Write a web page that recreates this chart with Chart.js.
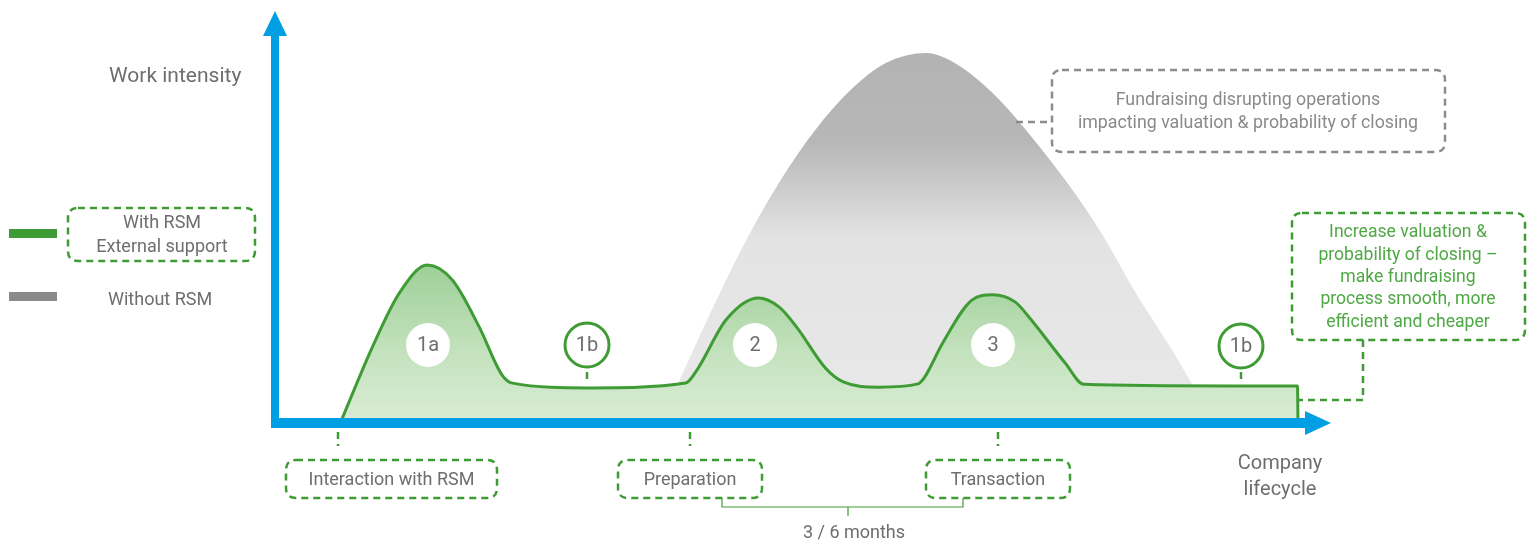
<!DOCTYPE html>
<html>
<head>
<meta charset="utf-8">
<title>Work intensity over the company lifecycle</title>
<script src="https://cdn.jsdelivr.net/npm/chart.js"></script>
<style>
  html, body { margin: 0; padding: 0; background: #fff; }
  #chart { display: block; }
</style>
</head>
<body>
<canvas id="chart" width="1528" height="544"></canvas>
<script>
    "use strict";

    // Curves (x = lifecycle 0..100, y = work intensity 0..100)
    var withRsmX = [6.3, 9.4, 12.0, 14.7, 17.1, 19.7, 21.9, 22.9, 30.3, 39.6, 40.7, 43.5, 46.6, 48.6, 50.3, 53.1, 54.8, 58.2, 62.0, 62.6, 64.4, 67.2, 69.2, 71.4, 72.7, 76.2, 78.0, 92.3, 98.6, 98.65];
    var withRsmY = [0, 18.9, 32.3, 39.2, 35.5, 23.8, 11.9, 9.9, 8.7, 9.9, 13.2, 25.6, 31.0, 28.8, 23.8, 13.6, 10.2, 8.9, 9.7, 11.2, 19.9, 30.5, 31.8, 30.0, 26.3, 14.9, 9.6, 9.2, 9.2, 0];
    var withoutRsmX = [38.8, 41.8, 45.1, 48.6, 52.1, 55.5, 58.9, 62.8, 65.9, 69.2, 71.6, 76.2, 79.7, 83.0, 86.5, 88.5];
    var withoutRsmY = [9.4, 26.3, 43.7, 59.6, 72.7, 82.6, 89.3, 91.8, 88.8, 81.9, 75.2, 60.3, 47.1, 32.3, 18.1, 9.4];

    // Texts
    var yTitle = "Work intensity";
    var xTitle = ["Company", "lifecycle"];
    var legendWith = ["With RSM", "External support"];
    var legendWithout = "Without RSM";
    var phaseMarks = ["1a", "1b", "2", "3", "1b"];
    var stageLabels = ["Interaction with RSM", "Preparation", "Transaction"];
    var durationLabel = "3 / 6 months";
    var grayNote = ["Fundraising disrupting operations", "impacting valuation & probability of closing"];
    var greenNote = ["Increase valuation &", "probability of closing \u2013", "make fundraising", "process smooth, more", "efficient and cheaper"];

    var BLUE = "#009fe3";
    var GREEN = "#3f9c35";
    var TEXT = "#6d6e71";
    var FONT = 'Roboto, "DejaVu Sans", sans-serif';

    function toPoints(xs, ys) {
        return xs.map(function (x, i) { return {x: x, y: ys[i]}; });
    }

    function roundRect(ctx, x, y, w, h, r) {
        ctx.beginPath();
        ctx.moveTo(x + r, y);
        ctx.lineTo(x + w - r, y);
        ctx.quadraticCurveTo(x + w, y, x + w, y + r);
        ctx.lineTo(x + w, y + h - r);
        ctx.quadraticCurveTo(x + w, y + h, x + w - r, y + h);
        ctx.lineTo(x + r, y + h);
        ctx.quadraticCurveTo(x, y + h, x, y + h - r);
        ctx.lineTo(x, y + r);
        ctx.quadraticCurveTo(x, y, x + r, y);
        ctx.closePath();
    }

    function dashedBox(ctx, x, y, w, h, color) {
        ctx.save();
        ctx.strokeStyle = color;
        ctx.lineWidth = 2.5;
        ctx.setLineDash([7, 5]);
        roundRect(ctx, x, y, w, h, 10);
        ctx.stroke();
        ctx.restore();
    }

    function dashedLine(ctx, pts, color) {
        ctx.save();
        ctx.strokeStyle = color;
        ctx.lineWidth = 2.5;
        ctx.setLineDash([7, 5]);
        ctx.beginPath();
        ctx.moveTo(pts[0][0], pts[0][1]);
        for (var i = 1; i < pts.length; i++) ctx.lineTo(pts[i][0], pts[i][1]);
        ctx.stroke();
        ctx.restore();
    }

    function lines(ctx, arr, x, y, step, color, size) {
        ctx.fillStyle = color;
        ctx.font = size + "px " + FONT;
        ctx.textAlign = "center";
        ctx.textBaseline = "middle";
        arr.forEach(function (t, i) { ctx.fillText(t, x, y + i * step); });
    }

    function bubble(ctx, x, y, label, ring) {
        ctx.save();
        ctx.beginPath();
        ctx.arc(x, y, 22, 0, Math.PI * 2);
        ctx.fillStyle = "#fff";
        ctx.fill();
        if (ring) {
            ctx.lineWidth = 3;
            ctx.strokeStyle = GREEN;
            ctx.stroke();
        }
        lines(ctx, [label], x, y + 1, 0, TEXT, 20);
        ctx.restore();
    }

    // Axes, legend, callouts
    var diagram = {
        id: "diagram",
        afterDatasetsDraw: function (chart) {
            var ctx = chart.ctx;
            var xs = chart.scales.x, ys = chart.scales.y;
            var ox = xs.getPixelForValue(0), oy = ys.getPixelForValue(0);

            ctx.save();
            // blue axes with arrow heads
            ctx.fillStyle = BLUE;
            ctx.fillRect(ox - 4, 34, 8, oy - 30);
            ctx.fillRect(ox - 4, oy - 5, 1310 - ox, 10);
            ctx.beginPath();
            ctx.moveTo(ox, 11); ctx.lineTo(ox + 12, 36); ctx.lineTo(ox - 12, 36);
            ctx.closePath(); ctx.fill();
            ctx.beginPath();
            ctx.moveTo(1331, oy); ctx.lineTo(1305, oy + 12); ctx.lineTo(1305, oy - 12);
            ctx.closePath(); ctx.fill();

            // axis titles
            ctx.fillStyle = TEXT;
            ctx.font = "21px " + FONT;
            ctx.textAlign = "left";
            ctx.textBaseline = "middle";
            ctx.fillText(yTitle, 109, 77);
            lines(ctx, xTitle, 1280, 464, 26, TEXT, 20);

            // legend
            ctx.fillStyle = GREEN;
            ctx.fillRect(9, 229, 48, 9);
            ctx.fillStyle = "#8a8a8a";
            ctx.fillRect(9, 292, 48, 9);
            dashedBox(ctx, 68, 208, 187, 53, GREEN);
            lines(ctx, legendWith, 162, 223, 24, TEXT, 18);
            ctx.fillStyle = TEXT;
            ctx.textAlign = "left";
            ctx.fillText(legendWithout, 108, 300);

            // phase bubbles
            bubble(ctx, 428, 345, phaseMarks[0], false);
            bubble(ctx, 587, 345, phaseMarks[1], true);
            bubble(ctx, 755, 345, phaseMarks[2], false);
            bubble(ctx, 993, 345, phaseMarks[3], false);
            bubble(ctx, 1241, 346, phaseMarks[4], true);
            dashedLine(ctx, [[587, 372], [587, 380]], GREEN);
            dashedLine(ctx, [[1241, 372], [1241, 380]], GREEN);

            // gray note
            dashedBox(ctx, 1052, 70, 393, 82, "#8c8c8c");
            dashedLine(ctx, [[1016, 122], [1052, 122]], "#8c8c8c");
            lines(ctx, grayNote, 1248, 101, 23, "#8a8a8a", 17.8);

            // green note
            dashedBox(ctx, 1292, 213, 233, 127, GREEN);
            dashedLine(ctx, [[1363, 340], [1363, 400], [1297, 400]], GREEN);
            lines(ctx, greenNote, 1408, 233, 22.3, "#4ea843", 17.6);

            // stage labels under the axis
            var boxes = [[286, 211, 338], [618, 144, 690], [926, 144, 998]];
            boxes.forEach(function (b, i) {
                dashedLine(ctx, [[b[2], 432], [b[2], 446]], GREEN);
                dashedBox(ctx, b[0], 460, b[1], 38, GREEN);
                lines(ctx, [stageLabels[i]], b[0] + b[1] / 2, 480, 0, TEXT, 18);
            });

            // duration bracket
            ctx.strokeStyle = GREEN;
            ctx.lineWidth = 1.2;
            ctx.setLineDash([]);
            ctx.beginPath();
            ctx.moveTo(722, 498); ctx.lineTo(722, 507); ctx.lineTo(963, 507); ctx.lineTo(963, 498);
            ctx.moveTo(848, 507); ctx.lineTo(848, 516);
            ctx.stroke();
            lines(ctx, [durationLabel], 854, 533, 0, TEXT, 18);
            ctx.restore();
        }
    };

    function greenFill(context) {
        var chart = context.chart;
        if (!chart.chartArea) return "#c5e3bf";
        var ys = chart.scales.y;
        var g = chart.ctx.createLinearGradient(0, ys.getPixelForValue(40), 0, ys.getPixelForValue(0));
        g.addColorStop(0, "#9dcf97");
        g.addColorStop(0.6, "#c6e3c0");
        g.addColorStop(1, "#d9ecd5");
        return g;
    }

    function grayFill(context) {
        var chart = context.chart;
        if (!chart.chartArea) return "#e8e8e8";
        var ys = chart.scales.y;
        var g = chart.ctx.createLinearGradient(0, ys.getPixelForValue(92), 0, ys.getPixelForValue(0));
        g.addColorStop(0, "#b3b3b3");
        g.addColorStop(0.24, "#b7b7b7");
        g.addColorStop(0.5, "#e3e3e3");
        g.addColorStop(1, "#e9e9e9");
        return g;
    }

    var ctx = document.getElementById("chart").getContext("2d");
    var myChart = new Chart(ctx, {
        type: "line",
        data: {
            datasets: [{
                label: "With RSM",
                data: toPoints(withRsmX, withRsmY),
                borderColor: GREEN,
                borderWidth: 3,
                backgroundColor: greenFill,
                fill: "origin",
                pointRadius: 0,
                cubicInterpolationMode: "monotone",
                order: 1
            }, {
                label: "Without RSM",
                data: toPoints(withoutRsmX, withoutRsmY),
                borderWidth: 0,
                borderColor: "rgba(0,0,0,0)",
                backgroundColor: grayFill,
                fill: "origin",
                pointRadius: 0,
                cubicInterpolationMode: "monotone",
                order: 2
            }]
        },
        options: {
            responsive: false,
            animation: false,
            layout: {padding: {left: 275, right: 216, top: 20, bottom: 121}},
            plugins: {legend: {display: false}, tooltip: {enabled: false}},
            scales: {
                x: {type: "linear", min: 0, max: 100, display: false},
                y: {min: 0, max: 100, display: false}
            }
        },
        plugins: [diagram]
    });
</script>
</body>
</html>
